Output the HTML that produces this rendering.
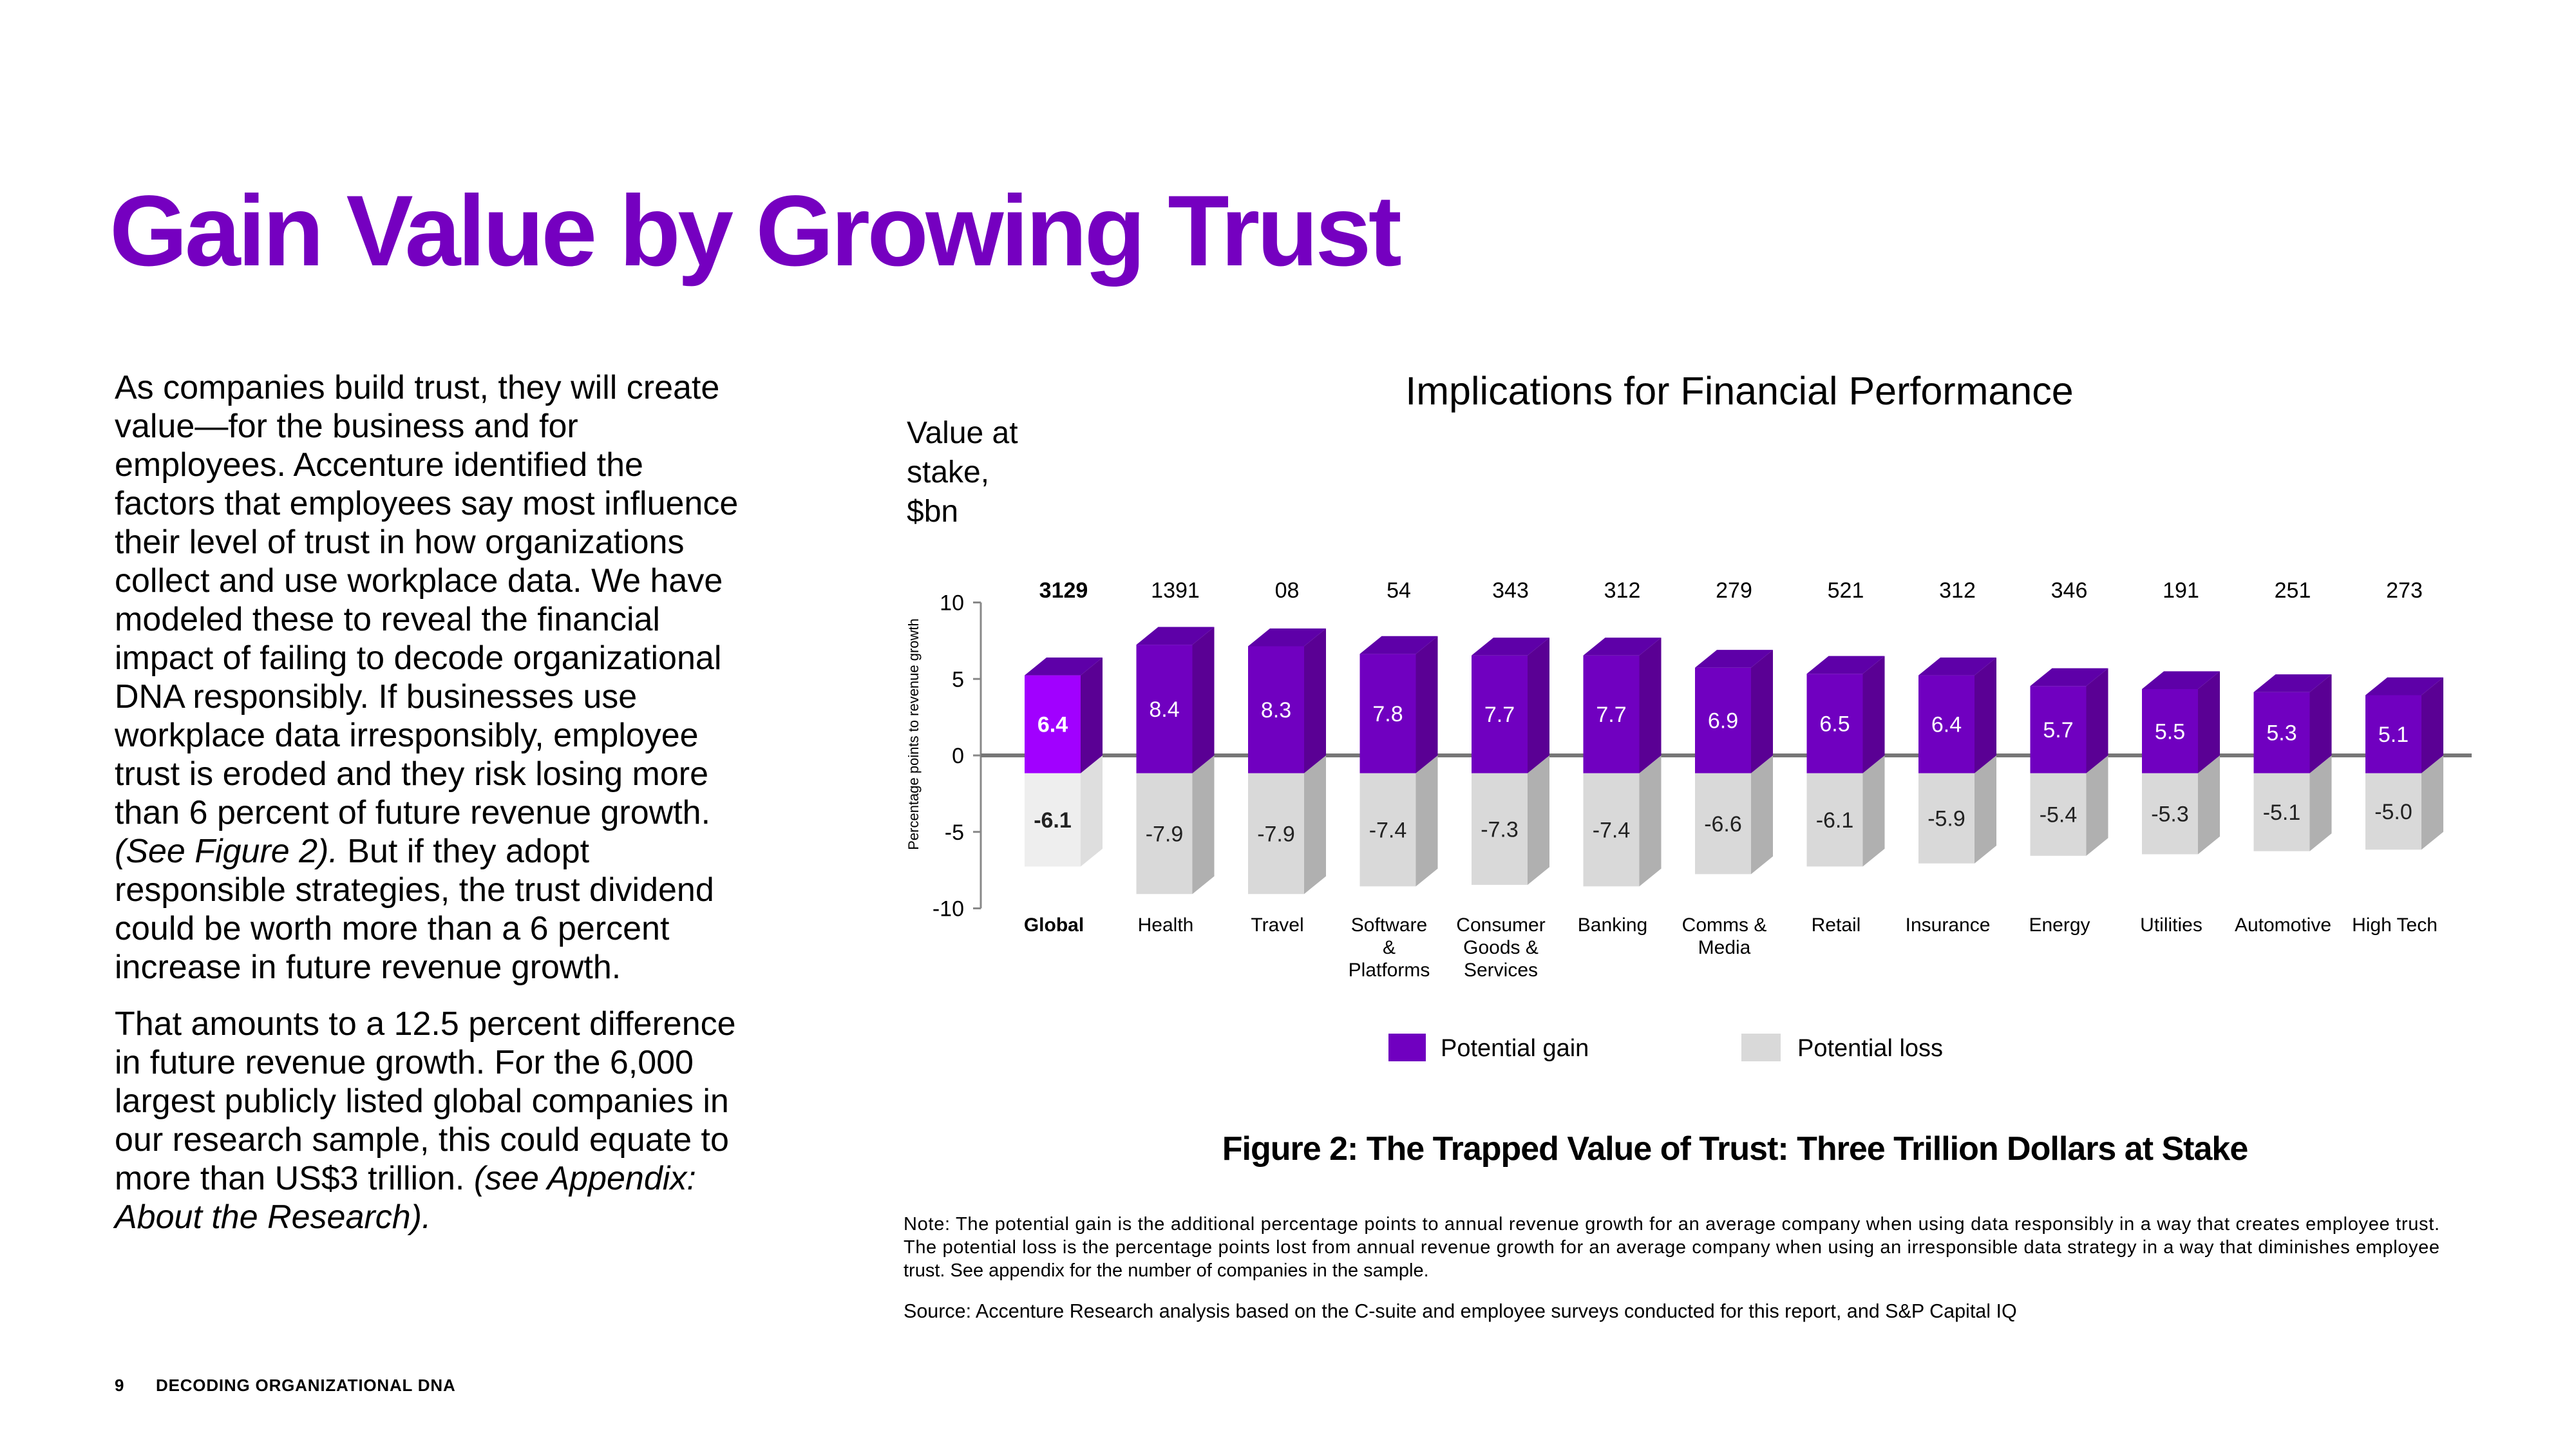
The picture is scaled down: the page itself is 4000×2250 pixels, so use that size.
<!DOCTYPE html>
<html><head><meta charset="utf-8">
<style>
html,body{margin:0;padding:0;background:#fff;}
body{width:4000px;height:2250px;position:relative;overflow:hidden;font-family:"Liberation Sans",sans-serif;color:#000;}
.abs{position:absolute;white-space:nowrap;}
#title{left:170px;top:270px;font-size:156px;font-weight:bold;color:#7500c0;letter-spacing:-4.5px;}
#body{left:178px;top:572px;font-size:52px;line-height:60px;}
#body p{margin:0 0 28px 0;}
svg{position:absolute;left:0;top:0;}
</style></head>
<body>
<div id="title" class="abs">Gain Value by Growing Trust</div>
<div id="body" class="abs">
<p>As companies build trust, they will create<br>value—for the business and for<br>employees. Accenture identified the<br>factors that employees say most influence<br>their level of trust in how organizations<br>collect and use workplace data. We have<br>modeled these to reveal the financial<br>impact of failing to decode organizational<br>DNA responsibly. If businesses use<br>workplace data irresponsibly, employee<br>trust is eroded and they risk losing more<br>than 6 percent of future revenue growth.<br><i>(See Figure 2).</i> But if they adopt<br>responsible strategies, the trust dividend<br>could be worth more than a 6 percent<br>increase in future revenue growth.</p>
<p>That amounts to a 12.5 percent difference<br>in future revenue growth. For the 6,000<br>largest publicly listed global companies in<br>our research sample, this could equate to<br>more than US$3 trillion. <i>(see Appendix:<br>About the Research).</i></p>
</div>
<div class="abs" style="left:178px;top:2136px;font-size:26px;font-weight:bold;">9</div>
<div class="abs" style="left:242px;top:2136px;font-size:26px;font-weight:bold;letter-spacing:0.8px;">DECODING ORGANIZATIONAL DNA</div>

<svg id="chart" width="4000" height="2250"></svg>

<script>
const categories=[["Global"],["Health"],["Travel"],["Software","&","Platforms"],["Consumer","Goods &","Services"],["Banking"],["Comms &","Media"],["Retail"],["Insurance"],["Energy"],["Utilities"],["Automotive"],["High Tech"]];
const gains=[6.4,8.4,8.3,7.8,7.7,7.7,6.9,6.5,6.4,5.7,5.5,5.3,5.1];
const losses=[-6.1,-7.9,-7.9,-7.4,-7.3,-7.4,-6.6,-6.1,-5.9,-5.4,-5.3,-5.1,-5.0];
const stakes=["3129","1391","08","54","343","312","279","521","312","346","191","251","273"];
const yTicks=[10,5,0,-5,-10];

const NS="http://www.w3.org/2000/svg";
const svg=document.getElementById('chart');
function y(v){return 1173-v*23.75;}
function x(i){return 1634.5+i*173.5;}
const BW=87,DX=34,DY=27.6;
function mk(tag,attrs,parent){const e=document.createElementNS(NS,tag);for(const k in attrs)e.setAttribute(k,attrs[k]);(parent||svg).appendChild(e);return e;}
function txt(s,attrs){const e=mk('text',attrs);e.textContent=s;return e;}

let t;
t=txt("Implications for Financial Performance",{x:2701,y:628,'font-size':61,'text-anchor':'middle'});


["Value at","stake,","$bn"].forEach((s,k)=>{const e=txt(s,{x:1408,y:688+k*61,'font-size':48});

});
t=txt("Percentage points to revenue growth",{x:0,y:0,'font-size':22,'text-anchor':'middle',transform:'translate(1426,1140) rotate(-90)'});



const ax=mk('line',{x1:1523,y1:y(10),x2:1523,y2:y(-10),stroke:'#888','stroke-width':3});


yTicks.forEach(v=>{
  const tk=mk('line',{x1:1511,y1:y(v),x2:1523,y2:y(v),stroke:'#888','stroke-width':3});
  
  
  const l=txt(String(v),{x:1497,y:y(v)+12,'font-size':34,'text-anchor':'end'});
  
  
});
const zl=mk('line',{x1:1523,y1:y(0),x2:3838,y2:y(0),stroke:'#777','stroke-width':6});



categories.forEach((cat,i)=>{
  const g=mk('g',{});
  
  
  const x0=x(i)-BW/2,x1=x(i)+BW/2;
  const y0=y(0)+DY,yg=y(gains[i])+DY,yl=y(losses[i])+DY;
  const glob=i===0;
  const lf=mk('rect',{x:x0,y:y0,width:BW,height:yl-y0,fill:glob?'#eeeeee':'#d9d9d9'},g);
  
  
  mk('polygon',{points:`${x1},${y0} ${x1},${yl} ${x1+DX},${yl-DY} ${x1+DX},${y0-DY}`,fill:glob?'#dedede':'#b0b0b0'},g);
  const gf=mk('rect',{x:x0,y:yg,width:BW,height:y0-yg,fill:glob?'#a100ff':'#7000c0'},g);
  
  
  mk('polygon',{points:`${x1},${yg} ${x1},${y0} ${x1+DX},${y0-DY} ${x1+DX},${yg-DY}`,fill:'#5a0094'},g);
  mk('polygon',{points:`${x0},${yg} ${x1},${yg} ${x1+DX},${yg-DY} ${x0+DX},${yg-DY}`,fill:'#5e00a8'},g);
  const gl=txt(gains[i].toFixed(1),{x:x(i),y:(yg+y0)/2+12,'font-size':34,fill:'#fff','text-anchor':'middle','font-weight':glob?'bold':'normal'});
  
  
  const ll=txt(losses[i].toFixed(1),{x:x(i),y:(y0+yl)/2+12,'font-size':34,fill:'#222','text-anchor':'middle','font-weight':glob?'bold':'normal'});
  
  
  const sl=txt(stakes[i],{x:x(i)+17,y:928,'font-size':34,'text-anchor':'middle','font-weight':glob?'bold':'normal'});
  
  
  cat.forEach((s,k)=>{
    const c=txt(s,{x:x(i)+2,y:1446+k*35,'font-size':30,'text-anchor':'middle','font-weight':glob?'bold':'normal'});
    
    
  });
});

let r=mk('rect',{x:2156,y:1605,width:58,height:43,fill:'#7000c0'});


t=txt("Potential gain",{x:2237,y:1640,'font-size':38});


r=mk('rect',{x:2704,y:1605,width:61,height:43,fill:'#d9d9d9'});


t=txt("Potential loss",{x:2791,y:1640,'font-size':38});



t=txt("Figure 2: The Trapped Value of Trust: Three Trillion Dollars at Stake",{x:2694,y:1801,'font-size':52,'font-weight':'bold','text-anchor':'middle','letter-spacing':'-1'});



const notes=["Note: The potential gain is the additional percentage points to annual revenue growth for an average company when using data responsibly in a way that creates employee trust.","The potential loss is the percentage points lost from annual revenue growth for an average company when using an irresponsible data strategy in a way that diminishes employee","trust. See appendix for the number of companies in the sample."];
notes.forEach((s,k)=>{const e=txt(s,{x:1403,y:1910+k*36,'font-size':29});
if(k<2)e.setAttribute('textLength',2385);

});
t=txt("Source: Accenture Research analysis based on the C-suite and employee surveys conducted for this report, and S&P Capital IQ",{x:1403,y:2046,'font-size':30.5});


</script>
</body></html>
